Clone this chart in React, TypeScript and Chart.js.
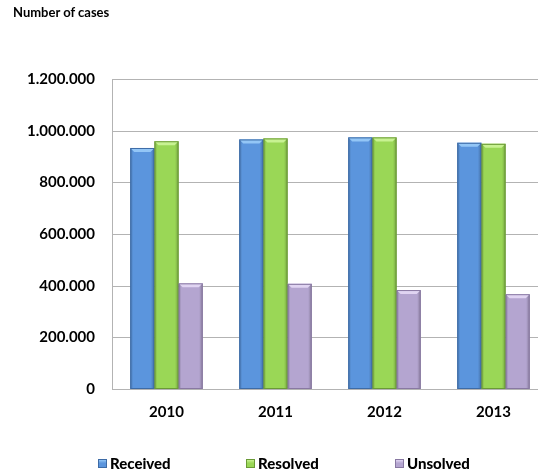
import React, { useEffect, useRef } from "react";
import { Chart, registerables } from "chart.js";

Chart.register(...registerables);

const years = ["2010", "2011", "2012", "2013"];
const received = [933000, 966000, 974000, 953000];
const resolved = [959000, 970000, 974000, 949000];
const unsolved = [409000, 407000, 383000, 367000];
const yTicks = [0, 200000, 400000, 600000, 800000, 1000000, 1200000];
const seriesNames = ["Received", "Resolved", "Unsolved"];

const FONT = "Lato, 'Open Sans', sans-serif";
const mainColors = ["#5B95DD", "#9AD756", "#B4A5D0"];
const lightColors = ["#93C6F6", "#C8F292", "#E0D4F2"];
const darkColors = ["#3D6BA6", "#6A9A36", "#8878A2"];
const GRID = "#B3B3B3";
const GRID_RIGHT = 538;

const fmt = (v: number) => String(v).replace(/\B(?=(\d{3})+(?!\d))/g, ".");

const gridPlugin = {
  id: "customGrid",
  beforeDatasetsDraw(chart: any) {
    const { ctx, chartArea, scales } = chart;
    const y = scales.y;
    ctx.save();
    ctx.strokeStyle = GRID;
    ctx.lineWidth = 1;
    yTicks.forEach((t) => {
      const py = Math.round(y.getPixelForValue(t)) + 0.5;
      ctx.beginPath();
      ctx.moveTo(chartArea.left, py);
      ctx.lineTo(GRID_RIGHT, py);
      ctx.stroke();
    });
    const lx = Math.round(chartArea.left) + 0.5;
    ctx.beginPath();
    ctx.moveTo(lx, y.getPixelForValue(1200000));
    ctx.lineTo(lx, y.getPixelForValue(0) + 0.5);
    ctx.stroke();
    ctx.restore();
  },
};

const bevelPlugin = {
  id: "bevel",
  afterDatasetsDraw(chart: any) {
    const { ctx } = chart;
    chart.data.datasets.forEach((_ds: any, di: number) => {
      const meta = chart.getDatasetMeta(di);
      meta.data.forEach((bar: any) => {
        const { x, y, base, width } = bar.getProps(["x", "y", "base", "width"], true);
        const l = x - width / 2;
        const r = x + width / 2;
        const b = 4;
        ctx.save();
        const g = ctx.createLinearGradient(l, 0, r, 0);
        g.addColorStop(0, "rgba(0,0,0,0.22)");
        g.addColorStop(0.12, "rgba(0,0,0,0)");
        g.addColorStop(0.85, "rgba(0,0,0,0)");
        g.addColorStop(1, "rgba(0,0,0,0.25)");
        ctx.fillStyle = g;
        ctx.fillRect(l, y, width, base - y);
        ctx.fillStyle = lightColors[di];
        ctx.beginPath();
        ctx.moveTo(l, y);
        ctx.lineTo(r, y);
        ctx.lineTo(r - b, y + b);
        ctx.lineTo(l + b, y + b);
        ctx.closePath();
        ctx.fill();
        ctx.strokeStyle = darkColors[di];
        ctx.lineWidth = 1;
        ctx.strokeRect(l + 0.5, y + 0.5, width - 1, base - y - 1);
        ctx.restore();
      });
    });
  },
};

export default function App() {
  const ref = useRef<HTMLCanvasElement | null>(null);

  useEffect(() => {
    if (!ref.current) return;
    const chart = new Chart(ref.current, {
      type: "bar",
      data: {
        labels: years,
        datasets: [received, resolved, unsolved].map((d, i) => ({
          label: seriesNames[i],
          data: d,
          backgroundColor: mainColors[i],
          borderWidth: 0,
          categoryPercentage: 0.665,
          barPercentage: 1,
        })),
      },
      options: {
        responsive: false,
        animation: false,
        layout: { padding: { top: 79, right: -6, bottom: 0, left: 0 } },
        plugins: {
          legend: { display: false },
          tooltip: { enabled: false },
          title: { display: false },
        },
        scales: {
          x: {
            grid: { display: false, drawTicks: false },
            border: { display: false },
            ticks: {
              color: "#000",
              padding: 14,
              font: { family: FONT, size: 15, weight: "bold" },
            },
            afterFit: (s: any) => {
              s.height = 85;
            },
          },
          y: {
            min: 0,
            max: 1200000,
            afterBuildTicks: (s: any) => {
              s.ticks = yTicks.map((v) => ({ value: v }));
            },
            grid: { display: false, drawTicks: false },
            border: { display: false },
            ticks: {
              color: "#000",
              padding: 17,
              font: { family: FONT, size: 15, weight: "bold" },
              callback: (v: any) => fmt(Number(v)),
            },
            afterFit: (s: any) => {
              s.width = 112;
            },
          },
        },
      },
      plugins: [gridPlugin, bevelPlugin],
    } as any);
    return () => chart.destroy();
  }, []);

  const legendPos = [98, 246, 395];

  return (
    <div style={{ position: "absolute", left: 0, top: 0, width: 548, height: 474, background: "#fff", fontFamily: FONT }}>
      <canvas ref={ref} width={548} height={474} style={{ position: "absolute", left: 0, top: 0 }} />
      <div style={{ position: "absolute", left: 13, top: 4, fontSize: 13, fontWeight: "bold", color: "#000", whiteSpace: "nowrap" }}>
        Number of cases
      </div>
      {seriesNames.map((n, i) => (
        <div
          key={n}
          style={{ position: "absolute", left: legendPos[i], top: 454, height: 18, display: "flex", alignItems: "center", fontSize: 15, fontWeight: 900, color: "#000", whiteSpace: "nowrap" }}
        >
          <span
            style={{
              display: "inline-block",
              width: 7,
              height: 7,
              marginRight: 3,
              background: `linear-gradient(180deg, ${lightColors[i]} 0%, ${mainColors[i]} 45%, ${mainColors[i]} 100%)`,
              border: `1px solid ${darkColors[i]}`,
            }}
          />
          {n}
        </div>
      ))}
    </div>
  );
}
